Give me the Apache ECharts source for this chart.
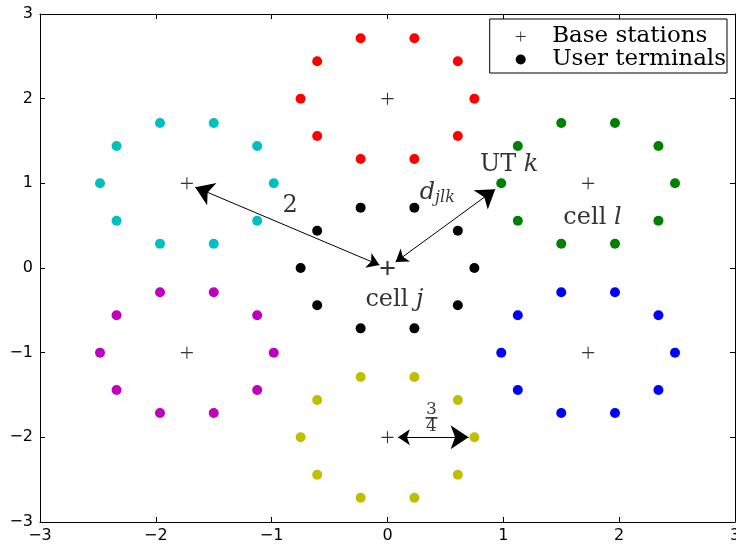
<!DOCTYPE html>
<html><head><meta charset="utf-8">
<script src="https://cdn.jsdelivr.net/npm/echarts@6/dist/echarts.min.js"></script>
<style>html,body{margin:0;padding:0;background:#fff}#c{width:736px;height:547px}</style>
</head><body><div id="c"></div>
<script>
// Base stations (hexagonal layout)
const baseStations = [[0,0],[0,2],[1.732,1],[1.732,-1],[0,-2],[-1.732,-1],[-1.732,1]];
// User terminals per cell
const utBlack = [[0.75,0],[0.607,0.441],[0.232,0.713],[-0.232,0.713],[-0.607,0.441],[-0.75,0],[-0.607,-0.441],[-0.232,-0.713],[0.232,-0.713],[0.607,-0.441]];
const utRed = [[0.75,2],[0.607,2.441],[0.232,2.713],[-0.232,2.713],[-0.607,2.441],[-0.75,2],[-0.607,1.559],[-0.232,1.287],[0.232,1.287],[0.607,1.559]];
const utGreen = [[2.482,1],[2.339,1.441],[1.964,1.713],[1.5,1.713],[1.125,1.441],[0.982,1],[1.125,0.559],[1.5,0.287],[1.964,0.287],[2.339,0.559]];
const utBlue = [[2.482,-1],[2.339,-0.559],[1.964,-0.287],[1.5,-0.287],[1.125,-0.559],[0.982,-1],[1.125,-1.441],[1.5,-1.713],[1.964,-1.713],[2.339,-1.441]];
const utYellow = [[0.75,-2],[0.607,-1.559],[0.232,-1.287],[-0.232,-1.287],[-0.607,-1.559],[-0.75,-2],[-0.607,-2.441],[-0.232,-2.713],[0.232,-2.713],[0.607,-2.441]];
const utMagenta = [[-0.982,-1],[-1.125,-0.559],[-1.5,-0.287],[-1.964,-0.287],[-2.339,-0.559],[-2.482,-1],[-2.339,-1.441],[-1.964,-1.713],[-1.5,-1.713],[-1.125,-1.441]];
const utCyan = [[-0.982,1],[-1.125,1.441],[-1.5,1.713],[-1.964,1.713],[-2.339,1.441],[-2.482,1],[-2.339,0.559],[-1.964,0.287],[-1.5,0.287],[-1.125,0.559]];
// Annotation arrows (double-headed)
const arrowFrom = [[-0.07,0.035],[0.07,0.07],[0.09,-2]];
const arrowTo = [[-1.66,0.955],[0.93,0.93],[0.70,-2]];
// Annotation texts
const annoKeys = ['two','d','ut','celll','cellj','frac'];
const annoX = [-0.84, 0.43, 1.05, 1.77, 0.06, 0.38];
const annoY = [0.74, 0.89, 1.22, 0.59, -0.38, -1.77];
// Axis ticks
const axisMin = -3, axisMax = 3, axisStep = 1;

const SERIF = '"DejaVu Serif", "Liberation Serif", serif';
const SANS = '"DejaVu Sans", sans-serif';
const plusPath = 'path://M5.45,0H6.55V5.45H12V6.55H6.55V12H5.45V6.55H0V5.45H5.45Z';
const plusBold = 'path://M5.1,0H6.9V5.1H12V6.9H6.9V12H5.1V6.9H0V5.1H5.1Z';

function fmt(v){ return v < 0 ? '\u2212' + (-v) : String(v); }

const utSeries = [
  ['User terminals', utBlack, '#000000'],
  ['red', utRed, '#ff0000'],
  ['green', utGreen, '#008000'],
  ['blue', utBlue, '#0000ff'],
  ['yellow', utYellow, '#bfbf00'],
  ['magenta', utMagenta, '#bf00bf'],
  ['cyan', utCyan, '#00bfbf']
].map(([name, data, color]) => ({
  name, type: 'scatter', data, symbol: 'circle', symbolSize: 10,
  itemStyle: { color, opacity: 1 }, z: 3, silent: true
}));

const annoFormat = {
  two: '{n|2}',
  d: '{i|d}{s|jlk}',
  ut: '{n|UT }{i|k}',
  celll: '{n|cell }{i|l}',
  cellj: '{n|cell }{i|j}',
  frac: '{f|3}\n{bar| }\n{f|4}'
};

const axisCommon = {
  type: 'value', min: axisMin, max: axisMax, interval: axisStep,
  axisLine: { show: true, onZero: false, lineStyle: { color: '#000', width: 1 } },
  axisTick: { show: true, inside: true, length: 5, lineStyle: { color: '#000' } },
  splitLine: { show: false }
};

const option = {
  animation: false,
  backgroundColor: '#fff',
  grid: { left: 40, right: 1, top: 14, bottom: 25, containLabel: false, outerBoundsMode: 'none' },
  xAxis: [
    Object.assign({}, axisCommon, { position: 'bottom',
      axisLabel: { show: true, formatter: fmt, color: '#000', fontFamily: SANS, fontSize: 16, margin: 6 } }),
    Object.assign({}, axisCommon, { position: 'top', axisLabel: { show: false } })
  ],
  yAxis: [
    Object.assign({}, axisCommon, { position: 'left',
      axisLabel: { show: true, formatter: fmt, color: '#000', fontFamily: SANS, fontSize: 16, margin: 7 } }),
    Object.assign({}, axisCommon, { position: 'right', axisLabel: { show: false } })
  ],
  legend: {
    data: [{ name: 'Base stations', icon: plusPath }, { name: 'User terminals', icon: 'circle' }],
    orient: 'vertical', right: 9, top: 19,
    itemWidth: 53, itemHeight: 10, itemGap: 0,
    padding: [6, 1, 2, 26],
    borderColor: '#000', borderWidth: 1, borderRadius: 0, backgroundColor: '#fff',
    selectedMode: false,
    textStyle: { fontFamily: SERIF, fontSize: 23, color: '#000', lineHeight: 22 }
  },
  series: [
    ...utSeries,
    { name: 'Base stations', type: 'scatter', symbol: plusPath, symbolSize: 12,
      data: baseStations.map((p, i) => i === 0 ? { value: p, symbol: plusBold, symbolSize: 14 } : p),
      itemStyle: { color: '#000' }, z: 4, silent: true },
    { name: 'arrows', type: 'lines', coordinateSystem: 'cartesian2d', polyline: false,
      symbol: ['arrow', 'arrow'], symbolSize: [12, 18],
      lineStyle: { color: '#000', width: 1, opacity: 1, curveness: 0 },
      data: arrowFrom.map((a, i) => ({ coords: [a, arrowTo[i]] })), z: 5, silent: true },
    { name: 'annotations', type: 'scatter', symbolSize: 0, z: 6, silent: true,
      data: annoKeys.map((k, i) => ({ value: [annoX[i], annoY[i]] })),
      label: {
        show: true, position: 'inside',
        formatter: p => annoFormat[annoKeys[p.dataIndex]],
        rich: {
          n: { fontFamily: SERIF, fontSize: 24, color: '#000' },
          i: { fontFamily: SERIF, fontSize: 24, fontStyle: 'italic', color: '#000' },
          s: { fontFamily: SERIF, fontSize: 16, fontStyle: 'italic', color: '#000', verticalAlign: 'bottom', padding: [10, 0, 0, 0] },
          f: { fontFamily: SERIF, fontSize: 17, color: '#000', align: 'center', lineHeight: 14 },
          bar: { fontSize: 2, lineHeight: 3, height: 1.6, width: 12, backgroundColor: '#000', align: 'center' }
        }
      } }
  ]
};
echarts.init(document.getElementById('c')).setOption(option);
</script></body></html>
